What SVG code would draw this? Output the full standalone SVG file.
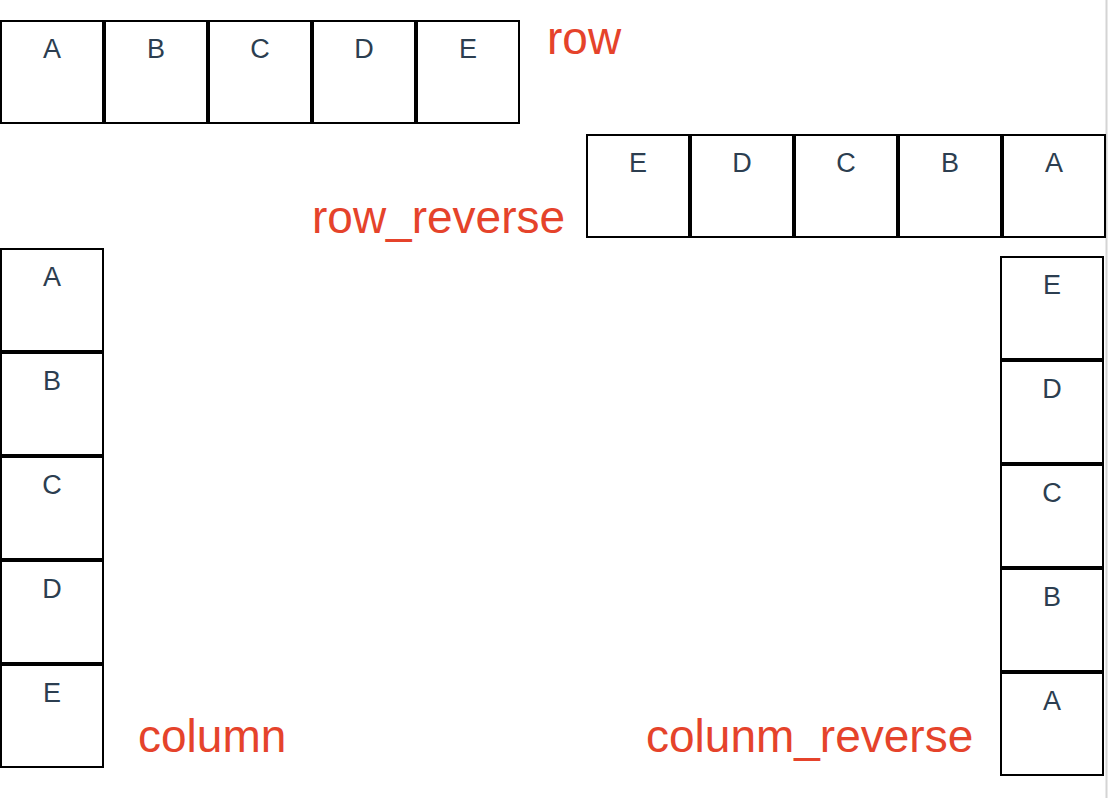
<svg xmlns="http://www.w3.org/2000/svg" width="1110" height="798" viewBox="0 0 1110 798">
<style>
.box rect{fill:#fff;stroke:#000;stroke-width:2}
.box text{font-family:"Liberation Sans",Arial,sans-serif;font-size:27px;fill:#2c3e50;text-anchor:middle}
.lbl{font-family:"Liberation Sans",Arial,sans-serif;font-size:46px;fill:#e5432b}
</style>
<rect width="1110" height="798" fill="#fff"/>
<rect x="1105.5" y="0" width="2" height="798" fill="#d4d4d4"/>
<g id="row">
<g id="row-A" class="box"><rect x="1" y="21" width="102" height="102"/><text x="52" y="58">A</text></g>
<g id="row-B" class="box"><rect x="105" y="21" width="102" height="102"/><text x="156" y="58">B</text></g>
<g id="row-C" class="box"><rect x="209" y="21" width="102" height="102"/><text x="260" y="58">C</text></g>
<g id="row-D" class="box"><rect x="313" y="21" width="102" height="102"/><text x="364" y="58">D</text></g>
<g id="row-E" class="box"><rect x="417" y="21" width="102" height="102"/><text x="468" y="58">E</text></g>
<text class="lbl" x="547" y="54">row</text>
</g>
<g id="row_reverse">
<g id="rr-E" class="box"><rect x="587" y="135" width="102" height="102"/><text x="638" y="172">E</text></g>
<g id="rr-D" class="box"><rect x="691" y="135" width="102" height="102"/><text x="742" y="172">D</text></g>
<g id="rr-C" class="box"><rect x="795" y="135" width="102" height="102"/><text x="846" y="172">C</text></g>
<g id="rr-B" class="box"><rect x="899" y="135" width="102" height="102"/><text x="950" y="172">B</text></g>
<g id="rr-A" class="box"><rect x="1003" y="135" width="102" height="102"/><text x="1054" y="172">A</text></g>
<text class="lbl" x="312" y="233">row_reverse</text>
</g>
<g id="column">
<g id="col-A" class="box"><rect x="1" y="249" width="102" height="102"/><text x="52" y="286">A</text></g>
<g id="col-B" class="box"><rect x="1" y="353" width="102" height="102"/><text x="52" y="390">B</text></g>
<g id="col-C" class="box"><rect x="1" y="457" width="102" height="102"/><text x="52" y="494">C</text></g>
<g id="col-D" class="box"><rect x="1" y="561" width="102" height="102"/><text x="52" y="598">D</text></g>
<g id="col-E" class="box"><rect x="1" y="665" width="102" height="102"/><text x="52" y="702">E</text></g>
<text class="lbl" x="138" y="752">column</text>
</g>
<g id="column_reverse">
<g id="cr-E" class="box"><rect x="1001" y="257" width="102" height="102"/><text x="1052" y="294">E</text></g>
<g id="cr-D" class="box"><rect x="1001" y="361" width="102" height="102"/><text x="1052" y="398">D</text></g>
<g id="cr-C" class="box"><rect x="1001" y="465" width="102" height="102"/><text x="1052" y="502">C</text></g>
<g id="cr-B" class="box"><rect x="1001" y="569" width="102" height="102"/><text x="1052" y="606">B</text></g>
<g id="cr-A" class="box"><rect x="1001" y="673" width="102" height="102"/><text x="1052" y="710">A</text></g>
<text class="lbl" x="646" y="752">colunm_reverse</text>
</g>
<g id="connectors"/>
</svg>
